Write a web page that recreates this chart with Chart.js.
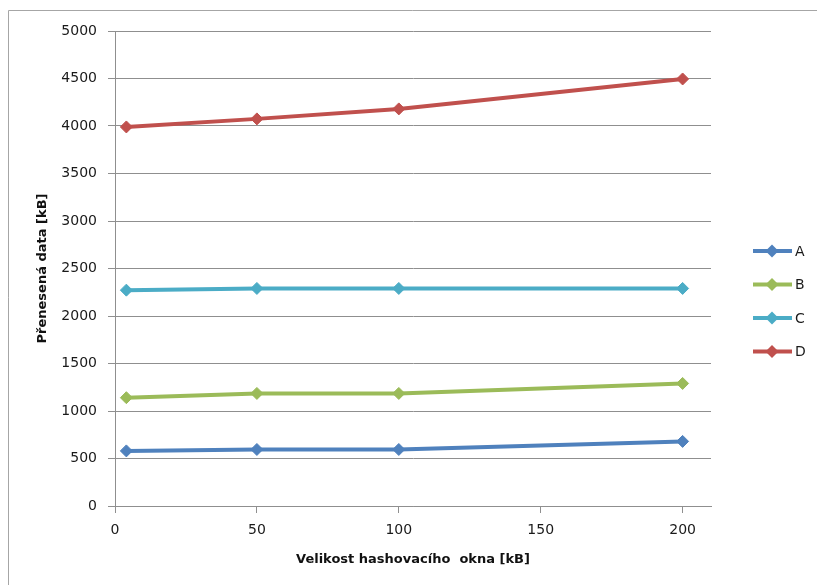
<!DOCTYPE html>
<html>
<head>
<meta charset="utf-8">
<title>Přenesená data</title>
<script src="https://cdn.jsdelivr.net/npm/chart.js@4/dist/chart.umd.min.js"></script>
<style>
  html, body { margin: 0; padding: 0; background: #fff; overflow: hidden; }
  canvas { display: block; }
</style>
</head>
<body>
<canvas id="chart" width="817" height="585"></canvas>
<script>
(function () {
    'use strict';

    // Data.
    var windowSizes = [4, 50, 100, 200];
    var xTicks      = [0, 50, 100, 150, 200];
    var seriesNames = ['A', 'B', 'C', 'D'];
    var seriesA     = [580, 595, 595, 680];
    var seriesB     = [1140, 1185, 1185, 1290];
    var seriesC     = [2272, 2290, 2290, 2290];
    var seriesD     = [3990, 4075, 4180, 4495];
    var colors      = ['#4f81bd', '#9bbb59', '#4bacc6', '#c0504d'];

    var FONT   = 'DejaVu Sans, Verdana, sans-serif';
    var GRID   = '#8f8f8f';
    var TEXT   = '#1a1a1a';

    function points(values) {
        return values.map(function (v, i) { return { x: windowSizes[i], y: v }; });
    }

    var datasets = [seriesA, seriesB, seriesC, seriesD].map(function (vals, i) {
        return {
            label:            seriesNames[i],
            data:             points(vals),
            borderColor:      colors[i],
            backgroundColor:  colors[i],
            borderWidth:      4,
            pointStyle:       'rectRot',
            pointRadius:      6,
            pointBorderWidth: 1,
            pointHoverRadius: 6,
            tension:          0,
        };
    });

    // Chart frame (only the left and top edges are visible in the crop).
    var outerFrame = {
        id: 'outerFrame',
        beforeDraw: function (chart) {
            var ctx = chart.ctx;
            ctx.save();
            ctx.strokeStyle = '#a6a6a6';
            ctx.lineWidth = 1;
            ctx.beginPath();
            ctx.moveTo(8.5, chart.height);
            ctx.lineTo(8.5, 10.5);
            ctx.lineTo(chart.width, 10.5);
            ctx.stroke();
            ctx.restore();
        },
    };

    // Excel-style legend on the right: line with a diamond marker.
    var sideLegend = {
        id: 'sideLegend',
        afterDraw: function (chart) {
            var ctx = chart.ctx;
            ctx.save();
            chart.data.datasets.forEach(function (ds, i) {
                var y = 251 + i * 33.5;
                ctx.strokeStyle = ds.borderColor;
                ctx.lineWidth = 4;
                ctx.beginPath();
                ctx.moveTo(753, y);
                ctx.lineTo(792, y);
                ctx.stroke();
                ctx.fillStyle = ds.borderColor;
                ctx.beginPath();
                ctx.moveTo(772 - 6.5, y);
                ctx.lineTo(772, y - 6.5);
                ctx.lineTo(772 + 6.5, y);
                ctx.lineTo(772, y + 6.5);
                ctx.closePath();
                ctx.fill();
                ctx.fillStyle = TEXT;
                ctx.font = '14px ' + FONT;
                ctx.textAlign = 'left';
                ctx.textBaseline = 'middle';
                ctx.fillText(ds.label, 795, y + 1);
            });
            ctx.restore();
        },
    };

    new Chart(document.getElementById('chart').getContext('2d'), {
        type: 'line',
        data: { datasets: datasets },
        plugins: [outerFrame, sideLegend],
        options: {
            responsive: false,
            animation: false,
            layout: { padding: { top: 31, right: 106, bottom: 0, left: 0 } },
            plugins: {
                legend:  { display: false },
                tooltip: { enabled: false },
            },
            scales: {
                x: {
                    type: 'linear',
                    min: 0,
                    max: 210,
                    afterBuildTicks: function (scale) {
                        scale.ticks = xTicks.map(function (v) { return { value: v }; });
                    },
                    afterFit: function (scale) { scale.height = 79; },
                    ticks: {
                        color: TEXT,
                        font: { family: FONT, size: 14 },
                        padding: 9,
                        maxRotation: 0,
                        callback: function (v) { return String(v); },
                    },
                    grid: {
                        drawOnChartArea: false,
                        color: GRID,
                        tickLength: 7,
                    },
                    border: { color: GRID, width: 1 },
                    title: {
                        display: true,
                        text: 'Velikost hashovacího  okna [kB]',
                        color: '#111',
                        font: { family: FONT, size: 13, weight: 'bold' },
                        padding: { top: 0, bottom: 18 },
                    },
                },
                y: {
                    min: 0,
                    max: 5000,
                    afterFit: function (scale) { scale.width = 115; },
                    ticks: {
                        stepSize: 500,
                        color: TEXT,
                        font: { family: FONT, size: 14 },
                        padding: 11,
                        callback: function (v) { return String(v); },
                    },
                    grid: {
                        color: GRID,
                        tickLength: 7,
                    },
                    border: { color: GRID, width: 1 },
                    title: {
                        display: true,
                        text: 'Přenesená data [kB]',
                        color: '#111',
                        font: { family: FONT, size: 13, weight: 'bold' },
                        padding: { top: 35, bottom: 0 },
                    },
                },
            },
        },
    });
}());
</script>
</body>
</html>
